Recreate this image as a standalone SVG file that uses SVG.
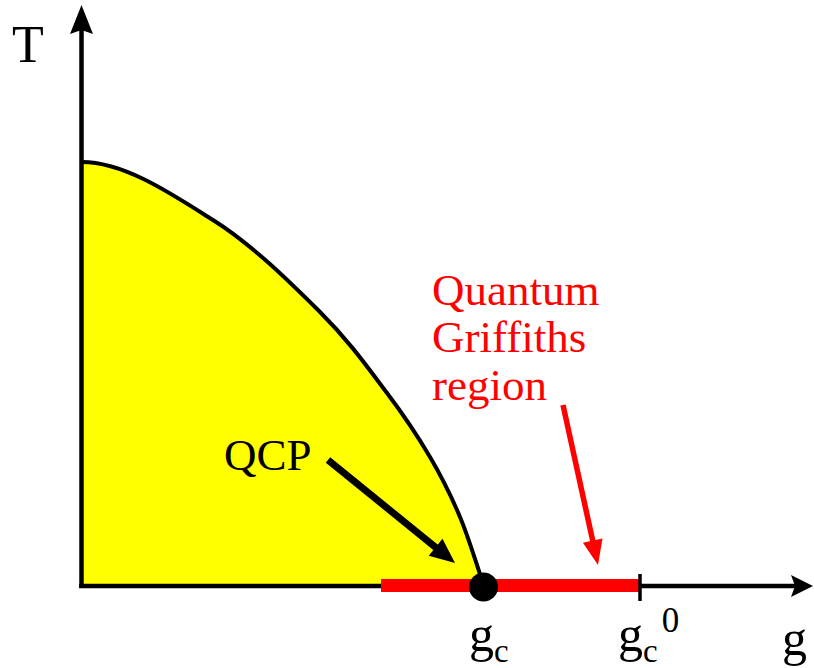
<svg xmlns="http://www.w3.org/2000/svg" width="814" height="668" viewBox="0 0 814 668">
<style>
text{font-family:"Liberation Serif","Times New Roman",serif;}
.lbl{font-size:45px;fill:#000;}
.red{font-size:45px;fill:#ff0000;}
.ax{stroke:#000;stroke-width:4.5;fill:none;}
</style>
<defs>
<path id="tc" d="M82,162 C125,162 173.3,195 213,220 C252.7,245 291,283.2 320,312 C349,340.8 368.7,368.8 387,393 C405.3,417.2 417.8,436.3 430,457 C442.2,477.7 451,495.5 460,517 C469,538.5 476,563 484,586"/>
</defs>
<rect width="814" height="668" fill="#fff"/>
<g id="phase">
<path d="M82,587 L82,162 C125,162 173.3,195 213,220 C252.7,245 291,283.2 320,312 C349,340.8 368.7,368.8 387,393 C405.3,417.2 417.8,436.3 430,457 C442.2,477.7 451,495.5 460,517 C469,538.5 476,563 484,586 Z" fill="#ffff00"/>
<use href="#tc" fill="none" stroke="#000" stroke-width="4"/>
</g>
<g id="axes">
<line class="ax" x1="81.5" y1="588" x2="81.5" y2="28"/>
<polygon points="81.5,5 93,34 81.5,30 70,34" fill="#000"/>
<line class="ax" x1="79" y1="586" x2="795" y2="586"/>
<polygon points="813,586 791,597 795,586 791,575" fill="#000"/>
</g>
<g id="griffiths-bar">
<rect x="381" y="579" width="258" height="13" fill="#ff0000"/>
<line x1="640" y1="574" x2="640" y2="601" stroke="#000" stroke-width="3.5"/>
</g>
<g id="qcp-dot">
<circle cx="483.5" cy="587" r="14.5" fill="#000"/>
</g>
<g id="connectors">
<line x1="328" y1="460" x2="437" y2="548.5" stroke="#000" stroke-width="7"/>
<polygon points="455,563 428.7,555.8 442.5,538.7" fill="#000"/>
<line x1="563" y1="405" x2="593" y2="542" stroke="#ff0000" stroke-width="5.5"/>
<polygon points="598,565 582.9,542.7 602.5,538.5" fill="#ff0000"/>
</g>
<g id="labels">
<text x="12" y="62" style="font-size:52px">T</text>
<text class="lbl" x="224" y="470">QCP</text>
<text class="red" x="432" y="305">Quantum</text>
<text class="red" x="432" y="352">Griffiths</text>
<text class="red" x="432" y="400">region</text>
<text x="469" y="651" style="font-size:50px">g<tspan dy="11" style="font-size:33px">c</tspan></text>
<text x="618" y="651" style="font-size:50px">g<tspan dy="11" style="font-size:33px">c</tspan><tspan dx="4" dy="-30" style="font-size:35px">0</tspan></text>
<text x="782" y="655" style="font-size:50px">g</text>
</g>
</svg>
